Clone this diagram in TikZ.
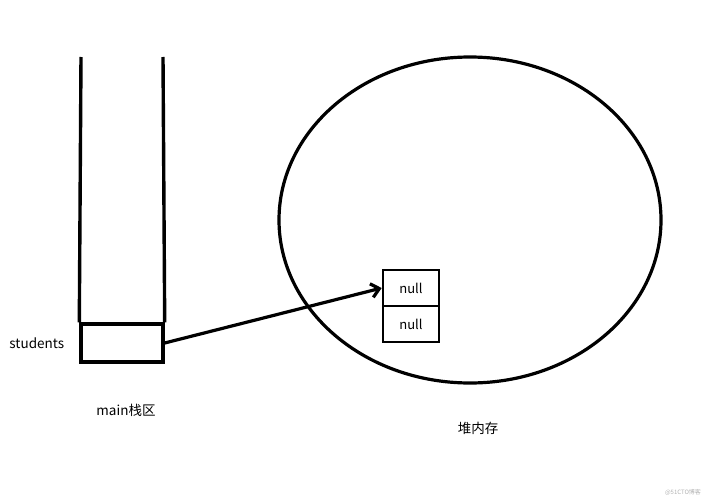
\documentclass[tikz,border=0pt]{standalone}
\usepackage{fontspec}
\newfontfamily\cjk{Noto Sans CJK SC}
\usetikzlibrary{arrows.meta,positioning,shapes.geometric}

\tikzset{
    cell/.style={draw, line width=3.4pt, minimum width=82pt, minimum height=38pt, inner sep=0pt},
    heapcell/.style={draw, line width=2.6pt, minimum width=56pt, minimum height=36pt, inner sep=0pt, font=\cjk\fontsize{13}{15}\selectfont},
    lbl/.style={font=\cjk\fontsize{13.5}{16}\selectfont, inner sep=0pt}
}

\begin{document}
\begin{tikzpicture}[x=1pt, y=-1pt]
    \useasboundingbox (0,0) rectangle (706,500);

    % stack
    \node[cell] (slot) at (122,343) {};
    \coordinate (ltop) at (81,57);
    \coordinate (rtop) at (163,57);
    \draw[line width=3.4pt] (ltop) -- (slot.north west);
    \draw[line width=3.4pt] (rtop) -- (slot.north east);
    \node[lbl, left=15pt of slot.west] (students) {students};
    \node[lbl] (mainlbl) at (126,410) {main栈区};

    % heap
    \node[draw, ellipse, line width=3.2pt, minimum width=382pt, minimum height=326pt] (heap) at (470,220) {};
    \node[heapcell] (null1) at (411,288) {null};
    \node[heapcell, below=-2.6pt of null1] (null2) {null};
    \node[lbl] (heaplbl) at (478,428) {堆内存};

    % reference
    \draw[line width=3.2pt, -{Straight Barb[length=8pt,width=14pt]}] (slot.east) -- (null1.west);

    % watermark
    \node[font=\cjk\fontsize{6}{7}\selectfont, text=black!30] (mark) at (683,492) {@51CTO博客};
\end{tikzpicture}
\end{document}
